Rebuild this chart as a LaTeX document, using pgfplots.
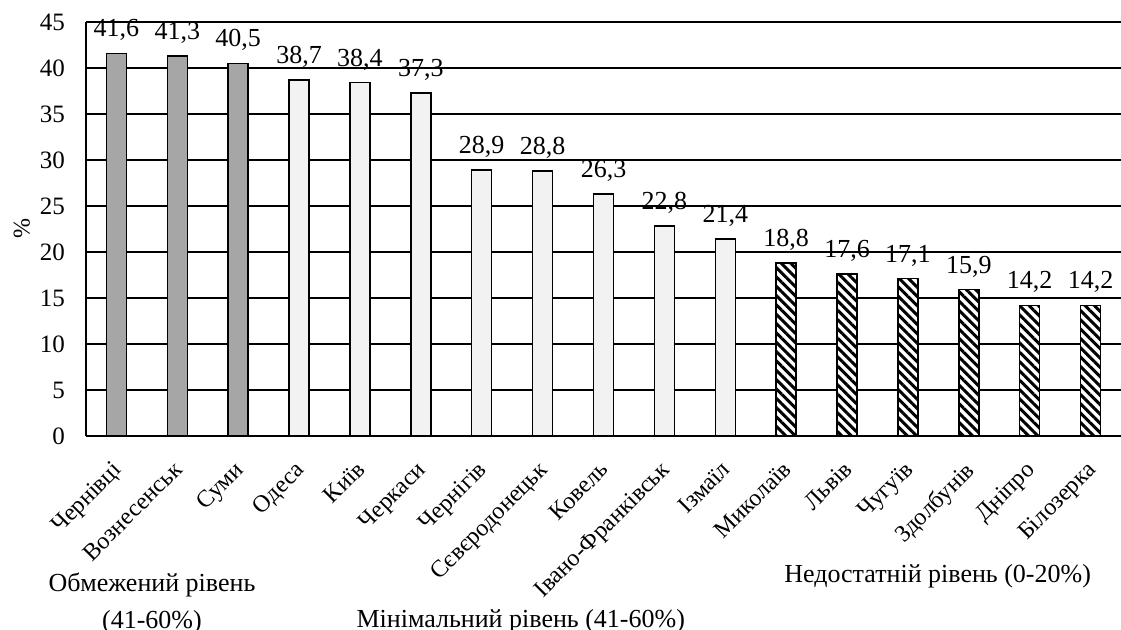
\documentclass[border=0pt]{standalone}
\usepackage{fontspec}
\setmainfont{Liberation Serif}
\usepackage{pgfplots}
\pgfplotsset{compat=1.18}
\usetikzlibrary{patterns.meta}
\definecolor{barDark}{HTML}{A6A6A6}
\definecolor{barLight}{HTML}{F2F2F2}
\begin{document}
\begin{tikzpicture}
\begin{axis}[
  at={(0,0)}, anchor=south west,
  scale only axis, width=517.5pt, height=207pt,
  ymin=0, ymax=45, ytick={0,5,...,45},
  xmin=-0.5, xmax=16.5,
  xtick={0,...,16},
  xticklabels={Чернівці, Вознесенськ, Суми, Одеса, Київ, Черкаси, Чернігів, Сєвєродонецьк, Ковель, Івано-Франківськ, Ізмаїл, Миколаїв, Львів, Чугуїв, Здолбунів, Дніпро, Білозерка},
  axis x line*=bottom, axis y line*=left,
  axis line style={black, line width=0.75pt, -},
  major tick length=0pt,
  ymajorgrids, grid style={black, line width=0.75pt},
  /pgf/number format/assume math mode=true,
  yticklabel style={font=\fontsize{12.5}{14}\selectfont, xshift=-7pt},
  xticklabel style={font=\fontsize{12}{14}\selectfont, xshift=-2.5pt, yshift=-7pt, rotate=45, anchor=north east},
  ylabel={\%},
  ylabel style={font=\fontsize{12}{14}\selectfont, at={(axis description cs:-0.062,0.5)}, anchor=center},
  nodes near coords,
  nodes near coords style={font=\fontsize{13}{15}\selectfont, yshift=2.5pt,
    /pgf/number format/.cd, fixed, fixed zerofill, precision=1, use comma},
  clip=false,
]
\addplot[ybar, bar width=10pt, bar shift=0pt, fill=barDark, draw=black, line width=0.75pt]
  coordinates {(0,41.6) (1,41.3) (2,40.5)};
\addplot[ybar, bar width=10pt, bar shift=0pt, fill=barLight, draw=black, line width=0.75pt]
  coordinates {(3,38.7) (4,38.4) (5,37.3) (6,28.9) (7,28.8) (8,26.3) (9,22.8) (10,21.4)};
\addplot[ybar, bar width=10pt, bar shift=0pt, draw=black, line width=0.75pt,
  preaction={fill=white}, pattern={Lines[angle=-45, distance=3.3pt, line width=1.5pt]}]
  coordinates {(11,18.8) (12,17.6) (13,17.1) (14,15.9) (15,14.2) (16,14.2)};
\end{axis}
\node[anchor=base, font=\fontsize{13}{15}\selectfont] at (33pt,-78pt) {Обмежений рівень};
\node[anchor=base, font=\fontsize{13}{15}\selectfont] at (33pt,-96.5pt) {(41-60\%)};
\node[anchor=base east, font=\fontsize{13}{15}\selectfont] at (303pt,-96pt) {Мінімальний рівень (41-60\%)};
\node[anchor=base east, font=\fontsize{13}{15}\selectfont] at (506pt,-73.5pt) {Недостатній рівень (0-20\%)};
\pgfresetboundingbox
\path (-43pt,-97pt) rectangle (517.5pt,218pt);
\end{tikzpicture}
\end{document}
